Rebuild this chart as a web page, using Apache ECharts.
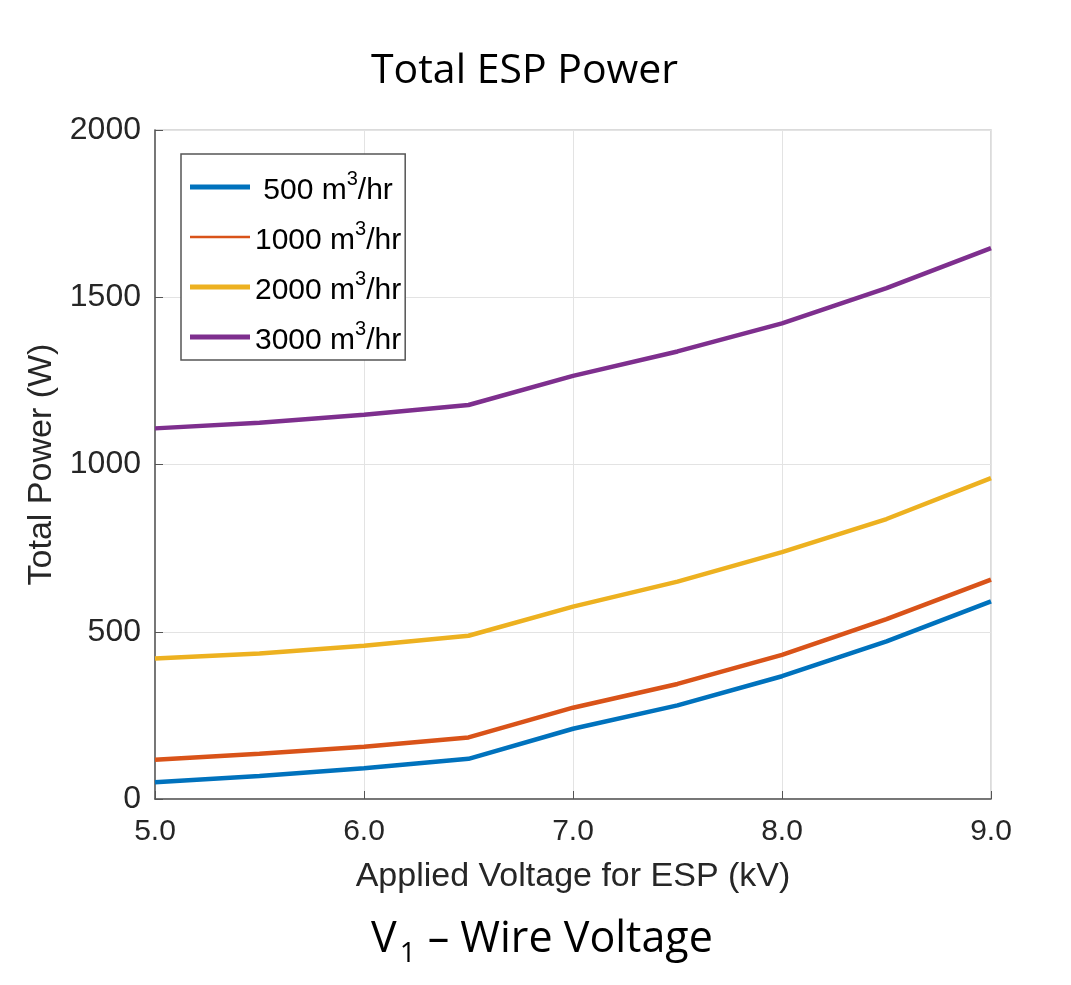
<!DOCTYPE html>
<html>
<head>
<meta charset="utf-8">
<script src="https://cdn.jsdelivr.net/npm/echarts@6/dist/echarts.min.js"></script>
<style>
html, body { margin: 0; padding: 0; background: #fff; }
#chart { width: 1071px; height: 985px; }
</style>
</head>
<body>
<div id="chart"></div>
<script>
// voltage steps (kV)
var voltage = [5.0, 5.5, 6.0, 6.5, 7.0, 7.5, 8.0, 8.5, 9.0];

// total power (W) per flow rate
var flow500 = [50, 69, 92, 120, 210, 280, 367, 471, 591];
var flow1000 = [117, 135, 156, 184, 273, 344, 431, 538, 656];
var flow2000 = [420, 435, 458, 488, 575, 650, 738, 837, 959];
var flow3000 = [1108, 1125, 1149, 1178, 1265, 1338, 1422, 1527, 1647];

var seriesNames = ['500', '1000', '2000', '3000'];
var seriesColors = ['#0072BD', '#D95319', '#EDB120', '#7E2F8E'];

var pairs = function(xs, ys) {
	return xs.map(function(x, i) { return [x, ys[i]]; });
};

var byId = function(id) {
	return document.getElementById(id);
};

var axisFont = 'Liberation Sans, Arial, sans-serif';
var titleFont = 'Open Sans, sans-serif';

var makeSeries = function(name, values, color) {
	return {
		name: name,
		type: 'line',
		data: pairs(voltage, values),
		symbol: 'none',
		lineStyle: { color: color, width: 4.5 },
		itemStyle: { color: color }
	};
};

var option = {
	backgroundColor: '#fff',
	animation: false,
	title: [{
		text: 'Total ESP Power',
		left: 366,
		top: 46,
		textStyle: { fontFamily: titleFont, fontSize: 41, fontWeight: 'normal', color: '#000' }
	}, {
		text: '{v|V}{s|1}{v|– Wire Voltage}',
		left: 366,
		top: 907,
		textStyle: {
			fontWeight: 'normal',
			rich: {
				v: { fontFamily: titleFont, fontSize: 43, fontWeight: 'normal', color: '#000' },
				s: { fontFamily: titleFont, fontSize: 28, fontWeight: 'normal', color: '#000', verticalAlign: 'bottom', padding: [28, 12, 0, 3] }
			}
		}
	}],
	legend: {
		orient: 'vertical',
		left: 181,
		top: 154,
		padding: [14, 4, 4, 9],
		backgroundColor: '#fff',
		borderColor: '#555',
		borderWidth: 1.5,
		itemGap: 12,
		itemWidth: 60,
		itemHeight: 5,
		icon: 'rect',
		data: [
			{ name: '500' },
			{ name: '1000', icon: 'path://M0,0L60,0L60,2.5L0,2.5Z' },
			{ name: '2000' },
			{ name: '3000' }
		],
		formatter: function(name) {
			var pad = name === '500' ? '{n| }' : '';
			return pad + '{n|' + name + ' m}{sup|3}{n|/hr}';
		},
		textStyle: {
			rich: {
				n: { fontFamily: axisFont, fontSize: 30, color: '#000', lineHeight: 36, padding: [8, 0, 0, 0] },
				sup: { fontFamily: axisFont, fontSize: 20, color: '#000', verticalAlign: 'top', padding: [0, 0, 12, 0] }
			}
		}
	},
	grid: {
		left: 155,
		right: 80,
		top: 130,
		bottom: 186,
		show: true,
		borderColor: '#cfcfcf',
		borderWidth: 1.5,
		containLabel: false
	},
	xAxis: {
		type: 'value',
		min: 5,
		max: 9,
		interval: 1,
		name: 'Applied Voltage for ESP (kV)',
		nameLocation: 'middle',
		nameGap: 61,
		nameTextStyle: { fontFamily: axisFont, fontSize: 34, color: '#262626' },
		axisLine: { lineStyle: { color: '#555', width: 1.5 } },
		axisTick: { inside: true, length: 8, lineStyle: { color: '#555' } },
		axisLabel: {
			fontFamily: axisFont, fontSize: 30, color: '#262626', margin: 18,
			formatter: function(v) { return v.toFixed(1); }
		},
		splitLine: { show: true, lineStyle: { color: '#e3e3e3', width: 1 } }
	},
	yAxis: {
		type: 'value',
		min: 0,
		max: 2000,
		interval: 500,
		name: 'Total Power (W)',
		nameLocation: 'middle',
		nameGap: 92,
		nameTextStyle: { fontFamily: axisFont, fontSize: 34, color: '#262626' },
		axisLine: { show: true, lineStyle: { color: '#555', width: 1.5 } },
		axisTick: { show: true, inside: true, length: 8, lineStyle: { color: '#555' } },
		axisLabel: {
			fontFamily: axisFont, fontSize: 32, color: '#262626', margin: 14,
			formatter: function(v) { return String(v); }
		},
		splitLine: { show: true, lineStyle: { color: '#e3e3e3', width: 1 } }
	},
	series: [
		makeSeries(seriesNames[0], flow500, seriesColors[0]),
		makeSeries(seriesNames[1], flow1000, seriesColors[1]),
		makeSeries(seriesNames[2], flow2000, seriesColors[2]),
		makeSeries(seriesNames[3], flow3000, seriesColors[3])
	]
};

var chart = echarts.init(byId('chart'));
chart.setOption(option);
</script>
</body>
</html>
